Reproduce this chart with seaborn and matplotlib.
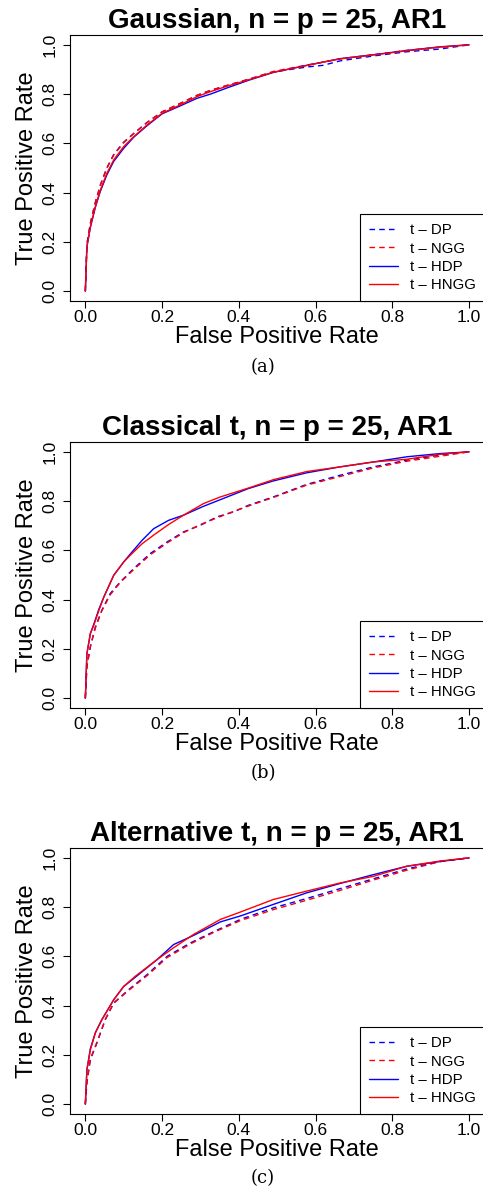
import matplotlib
matplotlib.use("Agg")
import matplotlib.pyplot as plt
import pandas as pd
import seaborn as sns

# ROC curves
titles = ["Gaussian, n = p = 25, AR1",
          "Classical t, n = p = 25, AR1",
          "Alternative t, n = p = 25, AR1"]
captions = ["(a)", "(b)", "(c)"]
methods = ["t \u2013 DP", "t \u2013 NGG", "t \u2013 HDP", "t \u2013 HNGG"]

# panel (a)
fpr_a = [0, 0.004, 0.013, 0.026, 0.039, 0.056, 0.074, 0.10, 0.126, 0.161, 0.20, 0.247,
         0.291, 0.326, 0.369, 0.425, 0.49, 0.577, 0.62, 0.664, 0.751, 0.838, 0.924, 1.0]
dp_a = [0, 0.19, 0.275, 0.36, 0.43, 0.50, 0.555, 0.605, 0.64, 0.685, 0.728, 0.762,
        0.795, 0.815, 0.835, 0.86, 0.89, 0.91, 0.917, 0.935, 0.955, 0.972, 0.983, 1.0]
ngg_a = [0, 0.19, 0.275, 0.36, 0.43, 0.50, 0.553, 0.603, 0.64, 0.685, 0.728, 0.762,
         0.795, 0.815, 0.835, 0.86, 0.892, 0.918, 0.93, 0.943, 0.96, 0.978, 0.99, 1.0]
hdp_a = [0, 0.18, 0.258, 0.34, 0.405, 0.472, 0.527, 0.58, 0.625, 0.672, 0.72, 0.752,
         0.783, 0.800, 0.825, 0.856, 0.888, 0.917, 0.93, 0.944, 0.96, 0.977, 0.992, 1.0]
hngg_a = [0, 0.18, 0.261, 0.343, 0.41, 0.478, 0.533, 0.587, 0.627, 0.675, 0.722, 0.756,
          0.79, 0.81, 0.832, 0.858, 0.889, 0.916, 0.93, 0.943, 0.959, 0.976, 0.991, 1.0]

# panel (b)
fpr_b_dash = [0, 0.004, 0.013, 0.026, 0.043, 0.065, 0.091, 0.126, 0.169, 0.213, 0.256,
              0.30, 0.343, 0.386, 0.425, 0.49, 0.577, 0.664, 0.751, 0.838, 0.924, 1.0]
dp_b = [0, 0.126, 0.207, 0.289, 0.357, 0.425, 0.472, 0.526, 0.587, 0.634, 0.675,
        0.702, 0.736, 0.756, 0.783, 0.817, 0.868, 0.905, 0.939, 0.966, 0.987, 1.0]
ngg_b = [0, 0.13, 0.21, 0.285, 0.355, 0.42, 0.47, 0.522, 0.582, 0.63, 0.672,
         0.705, 0.732, 0.758, 0.78, 0.815, 0.865, 0.9, 0.935, 0.962, 0.982, 1.0]
fpr_b_solid = [0, 0.004, 0.013, 0.022, 0.035, 0.048, 0.074, 0.10, 0.117, 0.148, 0.178,
               0.217, 0.256, 0.308, 0.352, 0.425, 0.49, 0.577, 0.664, 0.751, 0.838, 0.924, 1.0]
hdp_b = [0, 0.18, 0.262, 0.30, 0.36, 0.41, 0.499, 0.553, 0.585, 0.641, 0.688,
         0.722, 0.743, 0.779, 0.806, 0.851, 0.882, 0.915, 0.939, 0.959, 0.98, 0.993, 1.0]
hngg_b = [0, 0.18, 0.262, 0.296, 0.355, 0.41, 0.499, 0.553, 0.58, 0.627, 0.662,
          0.705, 0.743, 0.79, 0.817, 0.853, 0.887, 0.92, 0.939, 0.959, 0.97, 0.99, 1.0]

# panel (c)
fpr_c_dash = [0, 0.004, 0.013, 0.03, 0.052, 0.074, 0.113, 0.161, 0.213, 0.273, 0.334,
              0.404, 0.49, 0.577, 0.664, 0.751, 0.838, 0.924, 1.0]
dp_c = [0, 0.085, 0.18, 0.248, 0.343, 0.411, 0.465, 0.526, 0.6, 0.654, 0.7,
        0.75, 0.797, 0.835, 0.875, 0.915, 0.955, 0.985, 1.0]
ngg_c = [0, 0.09, 0.185, 0.25, 0.345, 0.41, 0.462, 0.522, 0.595, 0.65, 0.697,
         0.745, 0.79, 0.828, 0.868, 0.91, 0.95, 0.985, 1.0]
fpr_c_solid = [0, 0.004, 0.013, 0.026, 0.043, 0.074, 0.10, 0.13, 0.187, 0.23, 0.282,
               0.352, 0.404, 0.49, 0.577, 0.664, 0.751, 0.838, 0.924, 1.0]
hdp_c = [0, 0.139, 0.225, 0.29, 0.343, 0.424, 0.478, 0.515, 0.587, 0.648, 0.685,
         0.74, 0.764, 0.811, 0.858, 0.896, 0.932, 0.966, 0.985, 1.0]
hngg_c = [0, 0.139, 0.22, 0.289, 0.343, 0.424, 0.478, 0.519, 0.587, 0.635, 0.689,
          0.75, 0.78, 0.831, 0.865, 0.898, 0.925, 0.966, 0.987, 1.0]

panels = [
    [(fpr_a, dp_a), (fpr_a, ngg_a), (fpr_a, hdp_a), (fpr_a, hngg_a)],
    [(fpr_b_dash, dp_b), (fpr_b_dash, ngg_b), (fpr_b_solid, hdp_b), (fpr_b_solid, hngg_b)],
    [(fpr_c_dash, dp_c), (fpr_c_dash, ngg_c), (fpr_c_solid, hdp_c), (fpr_c_solid, hngg_c)],
]

colors = ["blue", "red", "blue", "red"]
styles = [(0, (4, 3)), (0, (4, 3)), "-", "-"]

sns.set_style("ticks")
plt.rcParams["font.family"] = ["Liberation Sans", "DejaVu Sans"]
plt.rcParams["text.color"] = "black"
plt.rcParams["axes.labelcolor"] = "black"
plt.rcParams["xtick.color"] = "black"
plt.rcParams["ytick.color"] = "black"

fig = plt.figure(figsize=(4.83, 11.94), dpi=100)
W, H = 483, 1194
tops = [35, 442, 848]
caption_y = [367, 773, 1178]

for i in range(3):
    top = tops[i]
    ax = fig.add_axes([70 / W, 1 - (top + 266) / H, 414.4 / W, 266 / H])
    for (x, y), lab, c, ls in zip(panels[i], methods, colors, styles):
        df = pd.DataFrame({"fpr": x, "tpr": y})
        sns.lineplot(data=df, x="fpr", y="tpr", ax=ax, color=c, linestyle=ls,
                     linewidth=1.0, label=lab, sort=False, estimator=None)
    ax.set_xlim(-0.04, 1.04)
    ax.set_ylim(-0.04, 1.04)
    ax.set_xticks([0, 0.2, 0.4, 0.6, 0.8, 1.0])
    ax.set_yticks([0, 0.2, 0.4, 0.6, 0.8, 1.0])
    ax.set_xticklabels(["0.0", "0.2", "0.4", "0.6", "0.8", "1.0"])
    ax.set_yticklabels(["0.0", "0.2", "0.4", "0.6", "0.8", "1.0"],
                       rotation=90, va="center")
    ax.tick_params(direction="out", length=5, width=0.8, labelsize=12.5, colors="black")
    ax.tick_params(axis="x", pad=1.5)
    ax.tick_params(axis="y", pad=4)
    for s in ax.spines.values():
        s.set_visible(True)
        s.set_color("black")
        s.set_linewidth(0.8)
    ax.set_xlabel("False Positive Rate", fontsize=17, labelpad=1, color="black")
    ax.set_ylabel("True Positive Rate", fontsize=17, labelpad=3, color="black")
    ax.set_title(titles[i], fontsize=20, fontweight="bold", pad=5, color="black")
    leg = ax.legend(loc="lower right", bbox_to_anchor=(1, 0), borderaxespad=0,
                    fancybox=False, edgecolor="black", framealpha=1, fontsize=10.8,
                    handlelength=1.9, handletextpad=0.8, labelspacing=0.28,
                    borderpad=0.6)
    leg.get_frame().set_linewidth(0.8)
    for t in leg.get_texts():
        t.set_color("black")
    fig.text(263 / W, 1 - caption_y[i] / H, captions[i], ha="center", va="center",
             fontsize=13, color="black", family=["DejaVu Serif"])

fig.savefig("out.png", dpi=100)
